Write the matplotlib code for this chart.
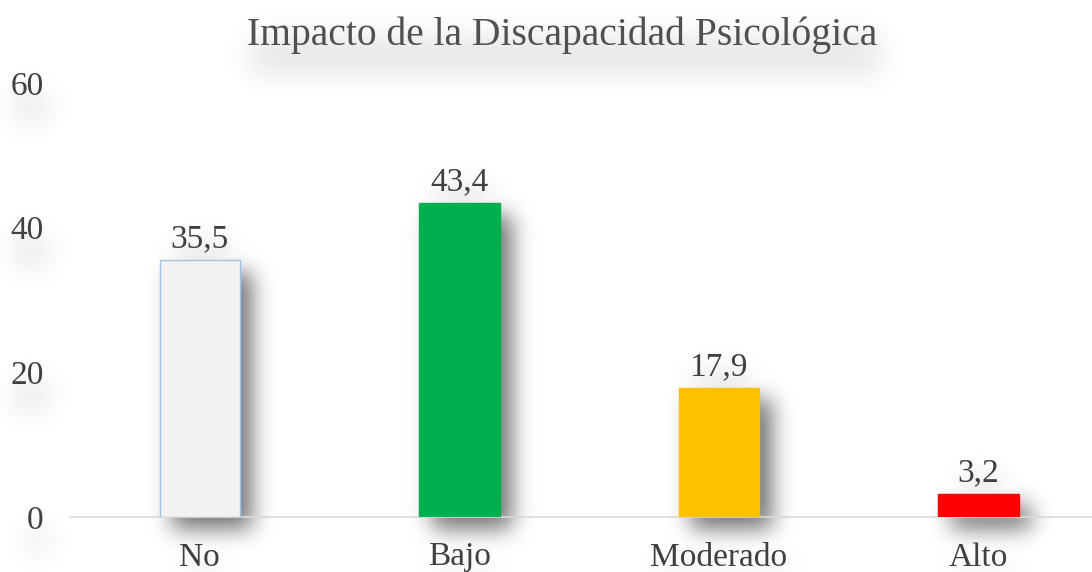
import numpy as np
import matplotlib.pyplot as plt

# data
categories = ["No", "Bajo", "Moderado", "Alto"]
values = [35.5, 43.4, 17.9, 3.2]
bar_colors = ["#F2F2F2", "#00B050", "#FFC000", "#FF0000"]
edge_colors = ["#9DC3E6", "#00B050", "#FFC000", "#FF0000"]
yticks = [0, 20, 40, 60]
title = "Impacto de la Discapacidad Psicológica"

plt.rcParams['font.family'] = ['Liberation Serif', 'DejaVu Serif']
text_color = "#404040"

W, H = 1092, 572
fig = plt.figure(figsize=(W / 100, H / 100), dpi=100)
fig.patch.set_facecolor("white")
ax = fig.add_axes([70 / W, 55 / H, 1022 / W, 434 / H])
ax.patch.set_visible(False)

x = np.arange(len(categories))
bars = ax.bar(x, values, width=0.31, color=bar_colors, edgecolor=edge_colors,
              linewidth=1, zorder=3)

for xi, v in zip(x, values):
    ax.annotate(f"{v:.1f}".replace(".", ","), (xi, v), xytext=(0, 4),
                textcoords="offset points", ha="center", va="bottom",
                fontsize=24, color=text_color, zorder=4)

ax.set_xlim(-0.5, 3.438)
ax.set_ylim(0, 60)
ax.set_yticks(yticks)
ax.set_xticks(x, categories)
for s in ["left", "right", "top"]:
    ax.spines[s].set_visible(False)
ax.spines["bottom"].set_color("#D9D9D9")
ax.spines["bottom"].set_linewidth(1.2)
ax.tick_params(axis="y", length=0, pad=19, labelsize=24, labelcolor=text_color)
ax.tick_params(axis="x", length=0, pad=18, labelsize=24, labelcolor=text_color)

title_txt = fig.text(562 / W, 1 - 45 / H, title, ha="center", va="baseline",
                     fontsize=28.5, color="#505050")

# soft shadows behind bars and text
fig.canvas.draw()
renderer = fig.canvas.get_renderer()


def blur(a, sigma):
    r = int(3 * sigma)
    k = np.exp(-0.5 * (np.arange(-r, r + 1) / sigma) ** 2)
    k /= k.sum()
    a = np.apply_along_axis(lambda m: np.convolve(m, k, mode="same"), 0, a)
    a = np.apply_along_axis(lambda m: np.convolve(m, k, mode="same"), 1, a)
    return a


def box_mask(bb, dx, dy):
    m = np.zeros((H, W))
    x0, x1 = int(bb.x0 + dx), int(bb.x1 + dx)
    r0, r1 = int(H - (bb.y1 + dy)), int(H - (bb.y0 + dy))
    m[max(r0, 0):max(r1, 0), max(x0, 0):max(x1, 0)] = 1
    return m


bar_mask = np.zeros((H, W))
for b in bars:
    bar_mask = np.maximum(bar_mask, box_mask(b.get_window_extent(renderer), 13, -12))
alpha = blur(bar_mask, 11) * 0.55

texts = [title_txt] + ax.get_yticklabels() + ax.get_xticklabels() + ax.texts
txt_mask = np.zeros((H, W))
for t in texts:
    txt_mask = np.maximum(txt_mask, box_mask(t.get_window_extent(renderer), 4, -20))
alpha = np.maximum(alpha, blur(txt_mask, 14) * 0.1)

rgba = np.zeros((H, W, 4))
rgba[..., 3] = np.clip(alpha, 0, 1)
fig.figimage(rgba, xo=0, yo=0, origin="upper", zorder=-1)

plt.savefig("out.png", dpi=100)
